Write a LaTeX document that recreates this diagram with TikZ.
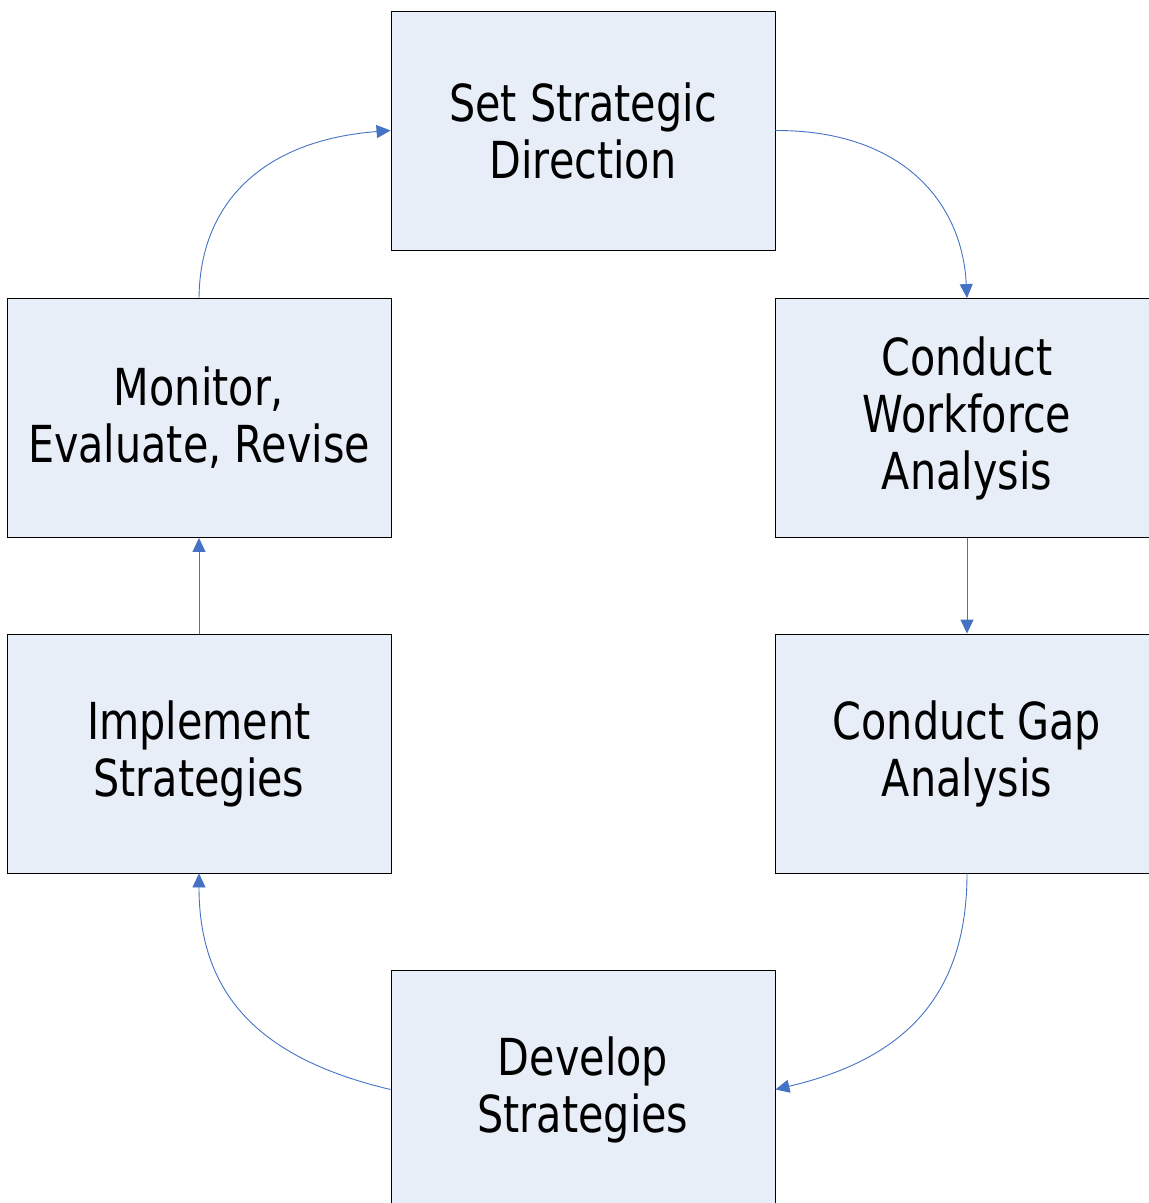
\documentclass[tikz,border=0pt]{standalone}
\usepackage{fontspec}
\setmainfont[FakeStretch=0.81]{DejaVu Sans}
\usetikzlibrary{arrows.meta}
\definecolor{boxfill}{HTML}{E8EEF8}
\definecolor{arrowblue}{HTML}{4472C4}
\tikzset{
  stepbox/.style={draw=black, line width=0.9pt, fill=boxfill, minimum width=384pt, minimum height=239pt,
    inner sep=0pt, align=center, font=\fontsize{51pt}{57pt}\selectfont},
  flow/.style={draw=arrowblue, line width=0.9pt, -{Triangle[length=14pt,width=13pt]}}
}
\begin{document}
\begin{tikzpicture}[x=1pt,y=-1pt]
\useasboundingbox (0,0) rectangle (1149,1203);
\clip (0,0) rectangle (1149,1203);
\node[stepbox] (set) at (583,130.5) {Set Strategic\\Direction};
\node[stepbox] (mon) at (199,418) {Monitor,\\Evaluate, Revise};
\node[stepbox] (cwa) at (967,418) {Conduct\\Workforce\\Analysis};
\node[stepbox] (imp) at (199,753.5) {Implement\\Strategies};
\node[stepbox] (gap) at (967,753.5) {Conduct Gap\\Analysis};
\node[stepbox] (dev) at (583,1089.5) {Develop\\Strategies};
\draw[flow] (set.east) .. controls (900,130) and (962,200) .. (cwa.north);
\draw[flow] (cwa.south) -- (gap.north);
\draw[flow] (gap.south) .. controls (967,1000) and (900,1060) .. (dev.east);
\draw[flow] (dev.west) .. controls (266,1060) and (199,1000) .. (imp.south);
\draw[flow] (imp.north) -- (mon.south);
\draw[flow] (mon.north) .. controls (200,200) and (266,140) .. (set.west);
\end{tikzpicture}
\end{document}
